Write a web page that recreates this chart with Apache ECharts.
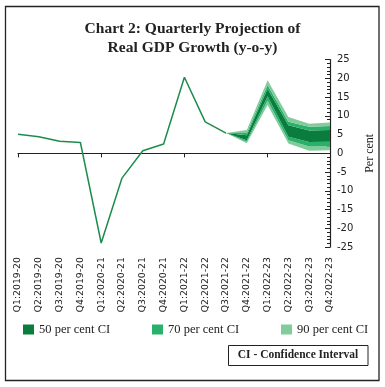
<!DOCTYPE html>
<html>
<head>
<meta charset="utf-8">
<script src="https://cdn.jsdelivr.net/npm/echarts@6/dist/echarts.min.js"></script>
<style>
html,body{margin:0;padding:0;background:#fff;}
#c{width:385px;height:387px;}
</style>
</head>
<body>
<div id="c"></div>
<script>
var categories = ['Q1:2019-20','Q2:2019-20','Q3:2019-20','Q4:2019-20','Q1:2020-21','Q2:2020-21','Q3:2020-21','Q4:2020-21','Q1:2021-22','Q2:2021-22','Q3:2021-22','Q4:2021-22','Q1:2022-23','Q2:2022-23','Q3:2022-23','Q4:2022-23'];
var actual = [5.1, 4.4, 3.2, 2.9, -23.9, -6.6, 0.7, 2.5, 20.3, 8.4, 5.4, null, null, null, null, null];
var lo90 = [null,null,null,null,null,null,null,null,null,null, 5.4, 2.7, 12.9, 2.6, 0.7, 0.8];
var lo70 = [null,null,null,null,null,null,null,null,null,null, 5.4, 3.1, 14.0, 3.5, 1.8, 1.9];
var lo50 = [null,null,null,null,null,null,null,null,null,null, 5.4, 3.5, 15.2, 4.4, 3.0, 3.1];
var hi50 = [null,null,null,null,null,null,null,null,null,null, 5.4, 4.8, 17.2, 7.5, 6.1, 6.2];
var hi70 = [null,null,null,null,null,null,null,null,null,null, 5.4, 5.4, 18.2, 8.4, 7.1, 7.3];
var hi90 = [null,null,null,null,null,null,null,null,null,null, 5.4, 6.2, 19.5, 9.7, 7.9, 8.2];
var yTicks = [-25, -20, -15, -10, -5, 0, 5, 10, 15, 20, 25];
var legendNames = ['50 per cent CI', '70 per cent CI', '90 per cent CI'];

var C50 = '#0a7d3e', C70 = '#2bb06b', C90 = '#82cc9c', CLINE = '#1c8c4c';
var serif = '"Liberation Serif", "DejaVu Serif", serif';
var sans = '"DejaVu Sans", Verdana, sans-serif';

function diff(a, b) { return a.map(function (v, i) { return (v == null || b[i] == null) ? '-' : +(v - b[i]).toFixed(2); }); }
function nz(a) { return a.map(function (v) { return v == null ? '-' : v; }); }

function band(name, data, color) {
  return {
    name: name, type: 'line', stack: 'fan', data: data, symbol: 'none', silent: true,
    lineStyle: { width: 0, opacity: 0 }, areaStyle: { color: color, opacity: 1 }, itemStyle: { color: color },
    z: 2
  };
}

var chart = echarts.init(document.getElementById('c'), null, { renderer: 'canvas' });
chart.setOption({
  animation: false,
  backgroundColor: '#fff',
  title: {
    text: 'Chart 2: Quarterly Projection of\nReal GDP Growth (y-o-y)',
    left: 'center', top: 14,
    textStyle: { fontFamily: serif, fontWeight: 'bold', fontSize: 15.5, lineHeight: 19, color: '#222' }
  },
  legend: legendNames.map(function (n, i) {
    return {
      data: [n], left: [18, 147, 276][i], top: 318, icon: 'rect', itemWidth: 11, itemHeight: 10, itemGap: 8,
      selectedMode: false,
      textStyle: { fontFamily: serif, fontSize: 12.5, color: '#222' }
    };
  }),
  grid: { left: 18, right: 55, top: 59.6, height: 187.5, containLabel: false },
  xAxis: [
    {
      type: 'category', data: categories, boundaryGap: false, position: 'bottom',
      axisLine: { onZero: true, lineStyle: { color: '#222', width: 1.2 } },
      axisTick: { show: true, length: 4, lineStyle: { color: '#222' } },
      axisLabel: { show: false }, splitLine: { show: false }
    },
    {
      type: 'category', data: categories, boundaryGap: false, position: 'bottom',
      axisLine: { show: false, onZero: false }, axisTick: { show: false },
      axisLabel: { rotate: 90, margin: 10, fontFamily: sans, fontSize: 9.3, color: '#222', interval: 0 },
      splitLine: { show: false }
    }
  ],
  yAxis: {
    type: 'value', position: 'right', min: yTicks[0], max: yTicks[yTicks.length - 1], interval: 5,
    axisLine: { show: true, lineStyle: { color: '#222', width: 1.2 } },
    axisTick: { show: true, inside: true, length: 5, lineStyle: { color: '#222' } },
    minorTick: { show: true, splitNumber: 5, length: 3, lineStyle: { color: '#222' } },
    axisLabel: { fontFamily: sans, fontSize: 10, color: '#222', margin: 7 },
    splitLine: { show: false },
    name: 'Per cent', nameLocation: 'middle', nameGap: 30, nameRotate: 90,
    nameTextStyle: { fontFamily: serif, fontSize: 12, color: '#222' }
  },
  series: [
    { name: 'base', type: 'line', stack: 'fan', data: nz(lo90), symbol: 'none', silent: true, lineStyle: { width: 0, opacity: 0 }, z: 1 },
    band(legendNames[2], diff(lo70, lo90), C90),
    band(legendNames[1], diff(lo50, lo70), C70),
    band(legendNames[0], diff(hi50, lo50), C50),
    band(legendNames[1], diff(hi70, hi50), C70),
    band(legendNames[2], diff(hi90, hi70), C90),
    { name: 'Actual', type: 'line', data: nz(actual), symbol: 'none', silent: true, lineStyle: { color: CLINE, width: 1.5 }, itemStyle: { color: CLINE }, z: 3 }
  ],
  graphic: [
    { type: 'rect', shape: { x: 5.5, y: 6.5, width: 373.5, height: 374 }, style: { fill: null, stroke: '#222', lineWidth: 1.3 }, silent: true, z: 0 },
    { type: 'rect', shape: { x: 228.5, y: 345.5, width: 139.5, height: 20 }, style: { fill: null, stroke: '#222', lineWidth: 1 }, silent: true },
    { type: 'text', x: 298, y: 355.5, style: { text: 'CI - Confidence Interval', fontFamily: serif, fontWeight: 'bold', fontSize: 11.5, fill: '#222', textAlign: 'center', textVerticalAlign: 'middle' }, silent: true }
  ]
});
</script>
</body>
</html>
